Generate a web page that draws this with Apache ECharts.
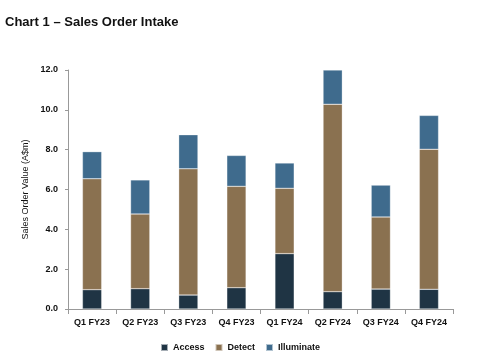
<!DOCTYPE html>
<html><head><meta charset="utf-8">
<script src="https://cdn.jsdelivr.net/npm/echarts@6/dist/echarts.min.js"></script>
<style>html,body{margin:0;padding:0;background:#fff}#c{width:480px;height:364px}</style>
</head><body><div id="c"></div>
<script>
const categories = ['Q1 FY23','Q2 FY23','Q3 FY23','Q4 FY23','Q1 FY24','Q2 FY24','Q3 FY24','Q4 FY24'];
const access = [0.97, 1.02, 0.70, 1.07, 2.78, 0.87, 1.00, 0.99];
const detect = [5.57, 3.75, 6.34, 5.09, 3.28, 9.41, 3.62, 7.03];
const illuminate = [1.36, 1.71, 1.71, 1.55, 1.27, 1.72, 1.60, 1.70];
const yTicks = [0, 2, 4, 6, 8, 10, 12];

const font = 'Liberation Sans';
const chart = echarts.init(document.getElementById('c'), null, {renderer:'canvas'});
const mk = (name, data, color) => ({
  name, type:'bar', stack:'t', data, barWidth:'40%',
  itemStyle:{color, borderColor:'rgba(255,255,255,0.6)', borderWidth:0.5},
  emphasis:{disabled:true}
});
chart.setOption({
  animation:false,
  title:{text:'Chart 1 – Sales Order Intake', left:0, top:11,
    textStyle:{fontFamily:font, fontWeight:'bold', fontSize:13, color:'#111'}},
  legend:{bottom:7, left:'center', itemWidth:7, itemHeight:7, itemGap:10, icon:'rect',
    textStyle:{fontFamily:font, fontWeight:'bold', fontSize:9, color:'#111'},
    data:['Access','Detect','Illuminate']},
  grid:{left:68, right:27, top:70, bottom:55},
  xAxis:{type:'category', data:categories,
    axisLine:{lineStyle:{color:'#999'}},
    axisTick:{show:true, length:5, lineStyle:{color:'#999'}},
    axisLabel:{fontFamily:font, fontWeight:'bold', fontSize:9, color:'#111', margin:9}},
  yAxis:{type:'value', min:yTicks[0], max:yTicks[yTicks.length-1], interval:2,
    name:'Sales Order Value (A$m)', nameLocation:'middle', nameGap:34, nameRotate:90,
    nameTextStyle:{fontFamily:font, fontSize:9, color:'#111'},
    axisLine:{show:true, lineStyle:{color:'#999'}},
    axisTick:{show:true, length:3, lineStyle:{color:'#999'}},
    splitLine:{show:false},
    axisLabel:{fontFamily:font, fontWeight:'bold', fontSize:9, color:'#111', margin:10,
      formatter:v=>v.toFixed(1)}},
  series:[mk('Access',access,'#1f3444'), mk('Detect',detect,'#8a7150'), mk('Illuminate',illuminate,'#3f6b8d')]
});
</script></body></html>
